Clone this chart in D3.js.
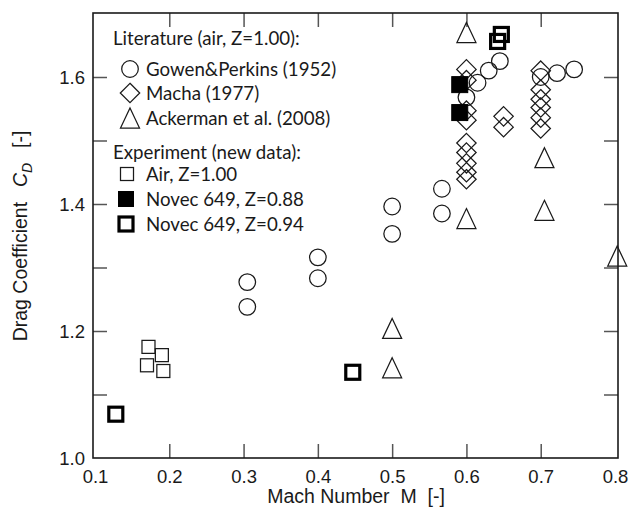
<!DOCTYPE html>
<html>
<head>
<meta charset="utf-8">
<script src="https://cdn.jsdelivr.net/npm/d3@7"></script>
<style>
  html, body { margin: 0; padding: 0; background: #fff; }
  svg { display: block; }
</style>
</head>
<body>
<svg id="chart" width="640" height="520"></svg>
<script>
// ---------------- DATA ----------------
// Literature (air, Z=1.00)
const gowenM  = [0.305, 0.305, 0.40, 0.40, 0.50, 0.50, 0.567, 0.567, 0.600, 0.615, 0.630, 0.645, 0.700, 0.722, 0.745];
const gowenCD = [1.277, 1.238, 1.316, 1.283, 1.396, 1.353, 1.424, 1.385, 1.568, 1.591, 1.610, 1.625, 1.600, 1.606, 1.612];

const machaM  = [0.60, 0.60, 0.60, 0.60, 0.60, 0.60, 0.60, 0.60, 0.60, 0.65, 0.65, 0.70, 0.70, 0.70, 0.70, 0.70, 0.70];
const machaCD = [1.612, 1.595, 1.547, 1.532, 1.496, 1.481, 1.464, 1.450, 1.439, 1.538, 1.521, 1.610, 1.580, 1.565, 1.552, 1.536, 1.519];

const ackermanM  = [0.60, 0.60, 0.705, 0.705, 0.50, 0.50, 0.803];
const ackermanCD = [1.670, 1.377, 1.473, 1.390, 1.204, 1.142, 1.318];

// Experiment (new data)
const airM  = [0.172, 0.190, 0.170, 0.192];
const airCD = [1.175, 1.162, 1.146, 1.137];

const novec088M  = [0.591, 0.591];
const novec088CD = [1.588, 1.544];

const novec094M  = [0.128, 0.447, 0.647, 0.642];
const novec094CD = [1.069, 1.135, 1.667, 1.656];

// Axes
const xTicks = [0.1, 0.2, 0.3, 0.4, 0.5, 0.6, 0.7, 0.8];
const yTicksMinor = [1.0, 1.1, 1.2, 1.3, 1.4, 1.5, 1.6, 1.7];
const yTickLabels = [1.0, 1.2, 1.4, 1.6];

const xTitle = "Mach Number  M  [-]";
const legendLitTitle = "Literature (air, Z=1.00):";
const legendExpTitle = "Experiment (new data):";
const legendLabels = ["Gowen&Perkins (1952)", "Macha (1977)", "Ackerman et al. (2008)",
                      "Air, Z=1.00", "Novec 649, Z=0.88", "Novec 649, Z=0.94"];

// ---------------- LAYOUT ----------------
const svg = d3.select("#chart");
const frame = {left: 93, right: 618, top: 13, bottom: 458};
const x = d3.scaleLinear().domain([0.1, 0.8]).range([95, 615]);
const y = d3.scaleLinear().domain([1.0, 1.7]).range([458, 13.5]);

const ink = "#1a1a1a";
const tickCol = "#555";
const axisFont = "'Liberation Sans', Arial, sans-serif";
const legFont = "Lato, 'Open Sans', sans-serif";

// ---------------- AXES (ticks inward on all sides) ----------------
function styleTicks(g) {
  g.select(".domain").remove();
  g.selectAll(".tick line").attr("stroke", tickCol).attr("stroke-width", 1.5);
}
const tl = 14;
svg.append("g").attr("transform", `translate(0,${frame.bottom})`)
  .call(d3.axisBottom(x).tickValues(xTicks.slice(1, -1)).tickSize(-tl).tickFormat(""))
  .call(styleTicks);
svg.append("g").attr("transform", `translate(0,${frame.top})`)
  .call(d3.axisTop(x).tickValues(xTicks.slice(1, -1)).tickSize(-tl).tickFormat(""))
  .call(styleTicks);
svg.append("g").attr("transform", `translate(${frame.left},0)`)
  .call(d3.axisLeft(y).tickValues(yTicksMinor.slice(1, -1)).tickSize(-tl).tickFormat(""))
  .call(styleTicks);
svg.append("g").attr("transform", `translate(${frame.right},0)`)
  .call(d3.axisRight(y).tickValues(yTicksMinor.slice(1, -1)).tickSize(-tl).tickFormat(""))
  .call(styleTicks);

// tick labels
const xLab = svg.append("g").attr("transform", `translate(0,${frame.bottom})`)
  .call(d3.axisBottom(x).tickValues(xTicks).tickSize(0).tickPadding(25).tickFormat(d3.format(".1f")));
xLab.select(".domain").remove();
xLab.selectAll("text").attr("font-family", axisFont).attr("font-size", 18.5).attr("fill", ink).attr("dy", 0);

const yLab = svg.append("g").attr("transform", `translate(${frame.left},0)`)
  .call(d3.axisLeft(y).tickValues(yTickLabels).tickSize(0).tickPadding(8).tickFormat(d3.format(".1f")));
yLab.select(".domain").remove();
yLab.selectAll("text").attr("font-family", axisFont).attr("font-size", 18.5).attr("fill", ink).attr("dy", "0.35em");

// frame
svg.append("rect")
  .attr("x", frame.left).attr("y", frame.top)
  .attr("width", frame.right - frame.left).attr("height", frame.bottom - frame.top)
  .attr("fill", "none").attr("stroke", ink).attr("stroke-width", 1.6);

// axis titles
svg.append("text").attr("x", 356).attr("y", 503)
  .attr("text-anchor", "middle").attr("font-family", axisFont).attr("font-size", 19.5).attr("fill", ink)
  .style("white-space", "pre").text(xTitle);

const yt = svg.append("text").attr("transform", "translate(27,236) rotate(-90)")
  .attr("text-anchor", "middle").attr("font-family", axisFont).attr("font-size", 19.5).attr("fill", ink)
  .style("white-space", "pre");
yt.append("tspan").text("Drag Coefficient  ");
yt.append("tspan").attr("font-style", "italic").attr("dx", 4).text("C");
yt.append("tspan").attr("font-style", "italic").attr("font-size", 14).attr("dy", 5).text("D");
yt.append("tspan").attr("dy", -5).attr("dx", 4).text("  [-]");

// ---------------- MARKERS ----------------
const R = 8.3;          // circle radius
const DH = 9.7;       // diamond half-diagonal
const TW = 9.5, TH = 10; // triangle half width, half height
function diamondPath(cx, cy) {
  return `M${cx},${cy - DH}L${cx + DH},${cy}L${cx},${cy + DH}L${cx - DH},${cy}Z`;
}
function trianglePath(cx, cy) {
  return `M${cx},${cy - TH}L${cx + TW},${cy + TH}L${cx - TW},${cy + TH}Z`;
}
function zip(a, b) { return a.map((v, i) => [v, b[i]]); }

const marks = svg.append("g");

marks.selectAll("circle.gowen").data(zip(gowenM, gowenCD)).join("circle")
  .attr("class", "gowen")
  .attr("cx", d => x(d[0])).attr("cy", d => y(d[1])).attr("r", R)
  .attr("fill", "none").attr("stroke", ink).attr("stroke-width", 1.25);

marks.selectAll("path.macha").data(zip(machaM, machaCD)).join("path")
  .attr("class", "macha")
  .attr("d", d => diamondPath(x(d[0]), y(d[1])))
  .attr("fill", "none").attr("stroke", ink).attr("stroke-width", 1.25);

marks.selectAll("path.ack").data(zip(ackermanM, ackermanCD)).join("path")
  .attr("class", "ack")
  .attr("d", d => trianglePath(x(d[0]), y(d[1])))
  .attr("fill", "none").attr("stroke", ink).attr("stroke-width", 1.25);

const SA = 13;   // air square side
marks.selectAll("rect.air").data(zip(airM, airCD)).join("rect")
  .attr("class", "air")
  .attr("x", d => x(d[0]) - SA / 2).attr("y", d => y(d[1]) - SA / 2)
  .attr("width", SA).attr("height", SA)
  .attr("fill", "none").attr("stroke", ink).attr("stroke-width", 1.25);

const SF = 16;
marks.selectAll("rect.n088").data(zip(novec088M, novec088CD)).join("rect")
  .attr("class", "n088")
  .attr("x", d => x(d[0]) - SF / 2).attr("y", d => y(d[1]) - SF / 2)
  .attr("width", SF).attr("height", SF)
  .attr("fill", "#000").attr("stroke", "#000").attr("stroke-width", 1);

const ST = 14;
marks.selectAll("rect.n094").data(zip(novec094M, novec094CD)).join("rect")
  .attr("class", "n094")
  .attr("x", d => x(d[0]) - ST / 2).attr("y", d => y(d[1]) - ST / 2)
  .attr("width", ST).attr("height", ST)
  .attr("fill", "none").attr("stroke", "#000").attr("stroke-width", 3.2);

// ---------------- LEGEND ----------------
const leg = svg.append("g").attr("font-family", legFont).attr("font-size", 18.7).attr("fill", ink);
leg.append("text").attr("x", 113).attr("y", 38).attr("dy", "0.35em").text(legendLitTitle);
leg.append("text").attr("x", 113).attr("y", 152).attr("dy", "0.35em").text(legendExpTitle);

const legRowsY = [69, 93, 118, 174, 199, 224];
const legTextX = 146;
legendLabels.forEach((t, i) => {
  leg.append("text").attr("x", legTextX).attr("y", legRowsY[i]).attr("dy", "0.35em").text(t);
});
const lsx = 130;
leg.append("circle").attr("cx", lsx).attr("cy", legRowsY[0]).attr("r", R)
  .attr("fill", "none").attr("stroke", ink).attr("stroke-width", 1.25);
leg.append("path").attr("d", diamondPath(lsx, legRowsY[1]))
  .attr("fill", "none").attr("stroke", ink).attr("stroke-width", 1.25);
leg.append("path").attr("d", trianglePath(lsx, legRowsY[2]))
  .attr("fill", "none").attr("stroke", ink).attr("stroke-width", 1.25);
leg.append("rect").attr("x", 127 - SA / 2).attr("y", legRowsY[3] - SA / 2).attr("width", SA).attr("height", SA)
  .attr("fill", "none").attr("stroke", ink).attr("stroke-width", 1.25);
leg.append("rect").attr("x", 126 - SF / 2).attr("y", legRowsY[4] - SF / 2).attr("width", SF).attr("height", SF)
  .attr("fill", "#000");
leg.append("rect").attr("x", 126 - ST / 2).attr("y", legRowsY[5] - ST / 2).attr("width", ST).attr("height", ST)
  .attr("fill", "none").attr("stroke", "#000").attr("stroke-width", 3.2);
</script>
</body>
</html>
